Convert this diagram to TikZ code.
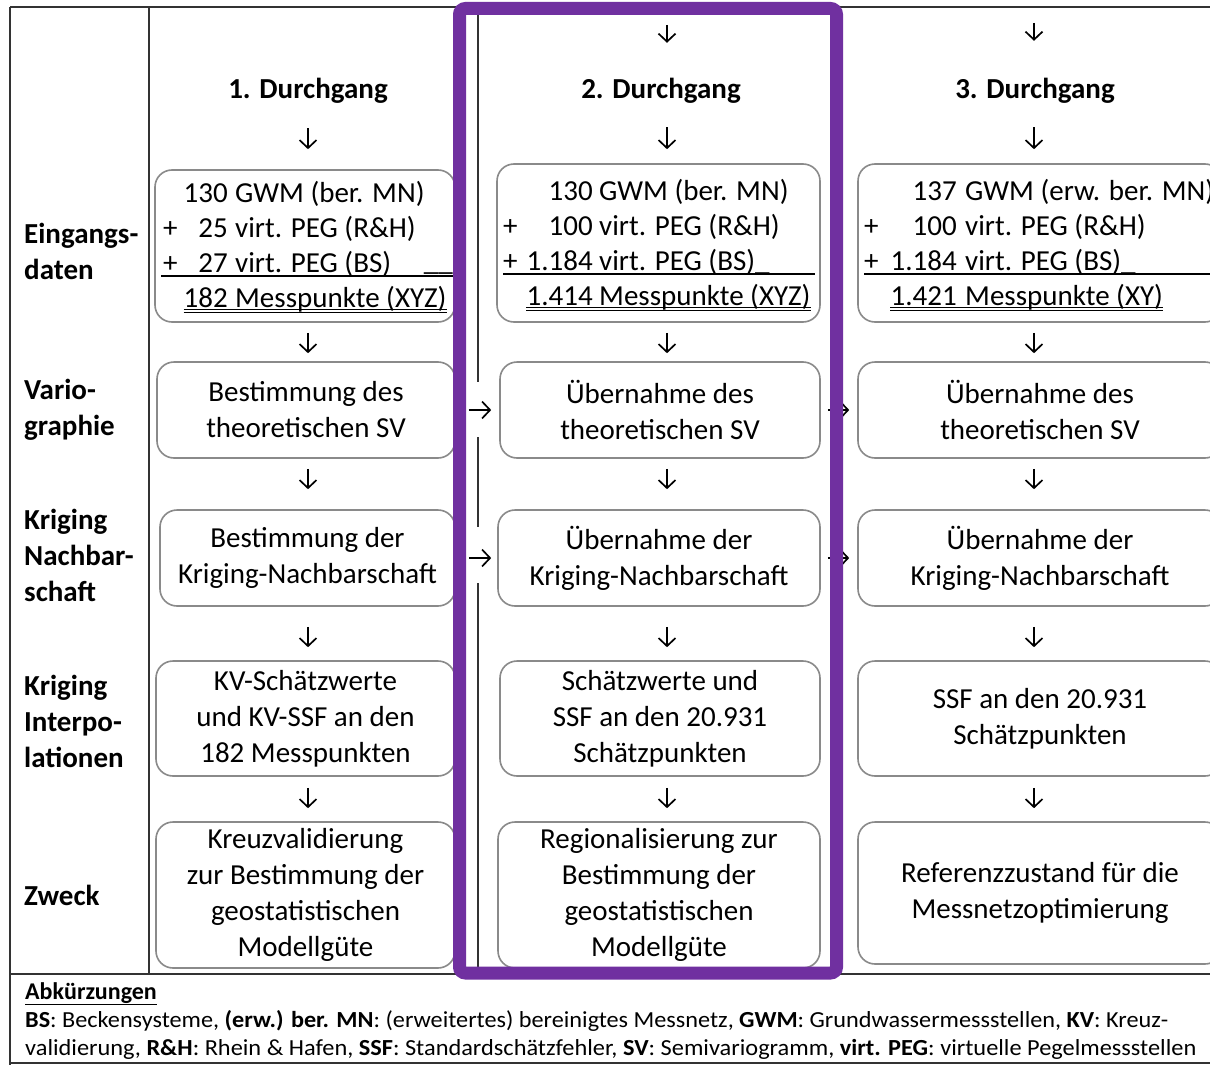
\documentclass[tikz,border=0pt]{standalone}
\usepackage{fontspec}
\setmainfont{Carlito}
\usepackage{graphicx}
\usetikzlibrary{arrows.meta,calc}
\definecolor{purp}{HTML}{7030A0}
\definecolor{boxgray}{HTML}{8A8A8A}
\definecolor{framec}{HTML}{333333}
\newcommand\conn[5]{\draw[arr,shorten <=#4pt,shorten >=#5pt] (#1 -| #3) -- (#2 -| #3);}
\begin{document}
\begin{tikzpicture}[x=1pt,y=-1pt,
  frame/.style={draw=framec,line width=2pt},
  box/.style={draw=boxgray,line width=1.6pt,rounded corners=17pt,inner sep=0pt,align=center,font=\fontsize{29}{36}\selectfont},
  etxt/.style={inner sep=0pt,font=\fontsize{29}{36}\selectfont},
  lab/.style={inner sep=0pt,align=left,anchor=west,font=\fontsize{29}{36}\selectfont\bfseries},
  head/.style={inner sep=0pt,anchor=base,text height=21pt,text depth=6pt,font=\fontsize{29}{36}\selectfont\bfseries},
  arr/.style={draw=black,line width=1.7pt,-{Straight Barb[length=8pt,width=17pt,line width=1.7pt]}},
  uline/.style={draw=black,line width=1.4pt},
  dul/.style={draw=black,line width=0.9pt},
  leg/.style={inner sep=0pt,anchor=base west,font=\fontsize{23}{28}\selectfont}]
\useasboundingbox (0,0) rectangle (1210,1065);
\clip (0,0) rectangle (1210,1065);
\fill[white] (0,0) rectangle (1210,1065);

% frame
\draw[frame] (10,7) -- (1215,7);
\draw[frame] (10,7) -- (10,1070);
\draw[frame] (149,7) -- (149,974);
\draw[frame] (10,974) -- (1215,974);
\draw[frame] (10,1063) -- (1215,1063);
\draw[frame] (478,7) -- (478,382) (478,437) -- (478,527) (478,583) -- (478,974);

% row labels
\node[lab] (l1) at (24,251) {Eingangs-\\daten};
\node[lab] (l2) at (24,410) {Vario-\\graphie};
\node[lab] (l3) at (24,555) {Kriging\\Nachbar-\\schaft};
\node[lab] (l4) at (24,721) {Kriging\\Interpo-\\lationen};
\node[lab] (l5) at (24,895) {Zweck};

% headings
\node[head] (h1) at (308,99) {1. Durchgang};
\node[head] (h2) at (661,99) {2. Durchgang};
\node[head] (h3) at (1035,99) {3. Durchgang};
\coordinate (cx1) at (308,0);
\coordinate (cx2) at (667,0);
\coordinate (cx3) at (1034,0);
\coordinate (top2) at (667,7);
\coordinate (top3) at (1034,7);

% boxes row 1
\node[box,minimum width=300pt,minimum height=152pt] (b11) at (305,246) {};
\node[box,minimum width=323pt,minimum height=158pt] (b12) at (658.5,243) {};
\node[box,minimum width=364pt,minimum height=158pt] (b13) at (1040,243) {};
% row 2
\node[box,minimum width=298pt,minimum height=96pt] (b21) at (306,410) {Bestimmung des\\theoretischen SV};
\node[box,minimum width=320pt,minimum height=96pt] (b22) at (660,410) {Übernahme des\\theoretischen SV};
\node[box,minimum width=364pt,minimum height=96pt] (b23) at (1040,410) {Übernahme des\\theoretischen SV};
% row 3
\node[box,minimum width=295pt,minimum height=96pt] (b31) at (307.5,558) {Bestimmung der\\Kriging-Nachbarschaft};
\node[box,minimum width=322pt,minimum height=96pt] (b32) at (659,558) {Übernahme der\\Kriging-Nachbarschaft};
\node[box,minimum width=364pt,minimum height=96pt] (b33) at (1040,558) {Übernahme der\\Kriging-Nachbarschaft};
% row 4
\node[box,minimum width=299pt,minimum height=115pt] (b41) at (305.5,718.5) {KV-Schätzwerte\\und KV-SSF an den\\182 Messpunkten};
\node[box,minimum width=320pt,minimum height=115pt] (b42) at (660,718.5) {Schätzwerte und\\SSF an den 20.931\\Schätzpunkten};
\node[box,minimum width=364pt,minimum height=115pt] (b43) at (1040,718.5) {SSF an den 20.931\\Schätzpunkten};
% row 5
\node[box,minimum width=299pt,minimum height=146pt] (b51) at (305.5,895) {Kreuzvalidierung\\zur Bestimmung der\\geostatistischen\\Modellgüte};
\node[box,minimum width=322pt,minimum height=146pt] (b52) at (659,895) {Regionalisierung zur\\Bestimmung der\\geostatistischen\\Modellgüte};
\node[box,minimum width=364pt,minimum height=142pt] (b53) at (1040,893) {Referenzzustand für die\\Messnetzoptimierung};

% input data column 1
\node[etxt,anchor=base east] (n11) at (228,202) {130};
\node[etxt,anchor=base west] (t11) at (235,202) {GWM (ber. MN)};
\node[etxt,anchor=base west] (p12) at (163,237) {+};
\node[etxt,anchor=base east] (n12) at (228,237) {25};
\node[etxt,anchor=base west] (t12) at (235,237) {virt. PEG (R\&H)};
\node[etxt,anchor=base west] (p13) at (163,272) {+};
\node[etxt,anchor=base east] (n13) at (228,272) {27};
\node[etxt,anchor=base west] (t13) at (235,272) {virt. PEG (BS)};
\node[etxt,anchor=base east] (u13) at (453,270) {\_\_};
\node[etxt,anchor=base east] (n14) at (228,307) {182};
\node[etxt,anchor=base west] (t14) at (235,307) {Messpunkte (XYZ)};
\draw[uline] (161,276) -- (454,276);
\draw[dul] ($(n14.base west)+(0,2.5)$) -- ($(t14.base east)+(0,2.5)$)
           ($(n14.base west)+(0,5.5)$) -- ($(t14.base east)+(0,5.5)$);

% input data column 2
\node[etxt,anchor=base east] (n21) at (593,200) {130};
\node[etxt,anchor=base west] (t21) at (599,200) {GWM (ber. MN)};
\node[etxt,anchor=base west] (p22) at (503,235) {+};
\node[etxt,anchor=base east] (n22) at (593,235) {100};
\node[etxt,anchor=base west] (t22) at (599,235) {virt. PEG (R\&H)};
\node[etxt,anchor=base west] (p23) at (503,270) {+};
\node[etxt,anchor=base east] (n23) at (593,270) {1.184};
\node[etxt,anchor=base west] (t23) at (599,270) {virt. PEG (BS)\_};
\node[etxt,anchor=base east] (n24) at (593,305) {1.414};
\node[etxt,anchor=base west] (t24) at (599,305) {Messpunkte (XYZ)};
\draw[uline] (503,274) -- (815,274);
\draw[dul] ($(n24.base west)+(0,2.5)$) -- ($(t24.base east)+(0,2.5)$)
           ($(n24.base west)+(0,5.5)$) -- ($(t24.base east)+(0,5.5)$);

% input data column 3
\node[etxt,anchor=base east] (n31) at (957,200) {137};
\node[etxt,anchor=base west] (t31) at (965,200) {GWM (erw. ber. MN)};
\node[etxt,anchor=base west] (p32) at (864,235) {+};
\node[etxt,anchor=base east] (n32) at (957,235) {100};
\node[etxt,anchor=base west] (t32) at (965,235) {virt. PEG (R\&H)};
\node[etxt,anchor=base west] (p33) at (864,270) {+};
\node[etxt,anchor=base east] (n33) at (957,270) {1.184};
\node[etxt,anchor=base west] (t33) at (965,270) {virt. PEG (BS)\_};
\node[etxt,anchor=base east] (n34) at (957,305) {1.421};
\node[etxt,anchor=base west] (t34) at (965,305) {Messpunkte (XY)};
\draw[uline] (864,274) -- (1212,274);
\draw[dul] ($(n34.base west)+(0,2.5)$) -- ($(t34.base east)+(0,2.5)$)
           ($(n34.base west)+(0,5.5)$) -- ($(t34.base east)+(0,5.5)$);

% vertical arrows
\conn{h1.south}{b11.north}{cx1}{23}{20}
\conn{top2}{h2.north}{cx2}{18}{35}
\conn{h2.south}{b12.north}{cx2}{22}{14}
\conn{top3}{h3.north}{cx3}{16}{37}
\conn{h3.south}{b13.north}{cx3}{22}{14}
\conn{b11.south}{b21.north}{cx1}{10}{8}
\conn{b12.south}{b22.north}{cx2}{10}{8}
\conn{b13.south}{b23.north}{cx3}{10}{8}
\conn{b21.south}{b31.north}{cx1}{10}{20}
\conn{b22.south}{b32.north}{cx2}{10}{20}
\conn{b23.south}{b33.north}{cx3}{10}{20}
\conn{b31.south}{b41.north}{cx1}{20}{13}
\conn{b32.south}{b42.north}{cx2}{20}{13}
\conn{b33.south}{b43.north}{cx3}{20}{13}
\conn{b41.south}{b51.north}{cx1}{11}{13}
\conn{b42.south}{b52.north}{cx2}{11}{13}
\conn{b43.south}{b53.north}{cx3}{11}{13}

% horizontal arrows
\draw[arr,shorten <=13pt,shorten >=8pt] (b21.east) -- (b22.west);
\draw[arr,shorten <=13pt,shorten >=6pt] (b31.east) -- (b32.west);
\draw[arr,shorten <=7pt,shorten >=8pt] (b22.east) -- (b23.west);
\draw[arr,shorten <=7pt,shorten >=8pt] (b32.east) -- (b33.west);

% legend
\node[leg,font=\fontsize{24}{28}\selectfont\bfseries] (lg0) at (25,999) {\underline{Abkürzungen}};
\node[leg] (lg1) at (25,1027) {\resizebox{1143pt}{\height}{\textbf{BS}: Beckensysteme, \textbf{(erw.) ber. MN}: (erweitertes) bereinigtes Messnetz, \textbf{GWM}: Grundwassermessstellen, \textbf{KV}: Kreuz-}};
\node[leg] (lg2) at (25,1055) {\resizebox{1171pt}{\height}{validierung, \textbf{R\&H}: Rhein \& Hafen, \textbf{SSF}: Standardschätzfehler, \textbf{SV}: Semivariogramm, \textbf{virt. PEG}: virtuelle Pegelmessstellen}};

% highlight
\draw[draw=purp,line width=13pt,rounded corners=6pt] (459.5,8.5) rectangle (836.5,973);
\end{tikzpicture}
\end{document}
